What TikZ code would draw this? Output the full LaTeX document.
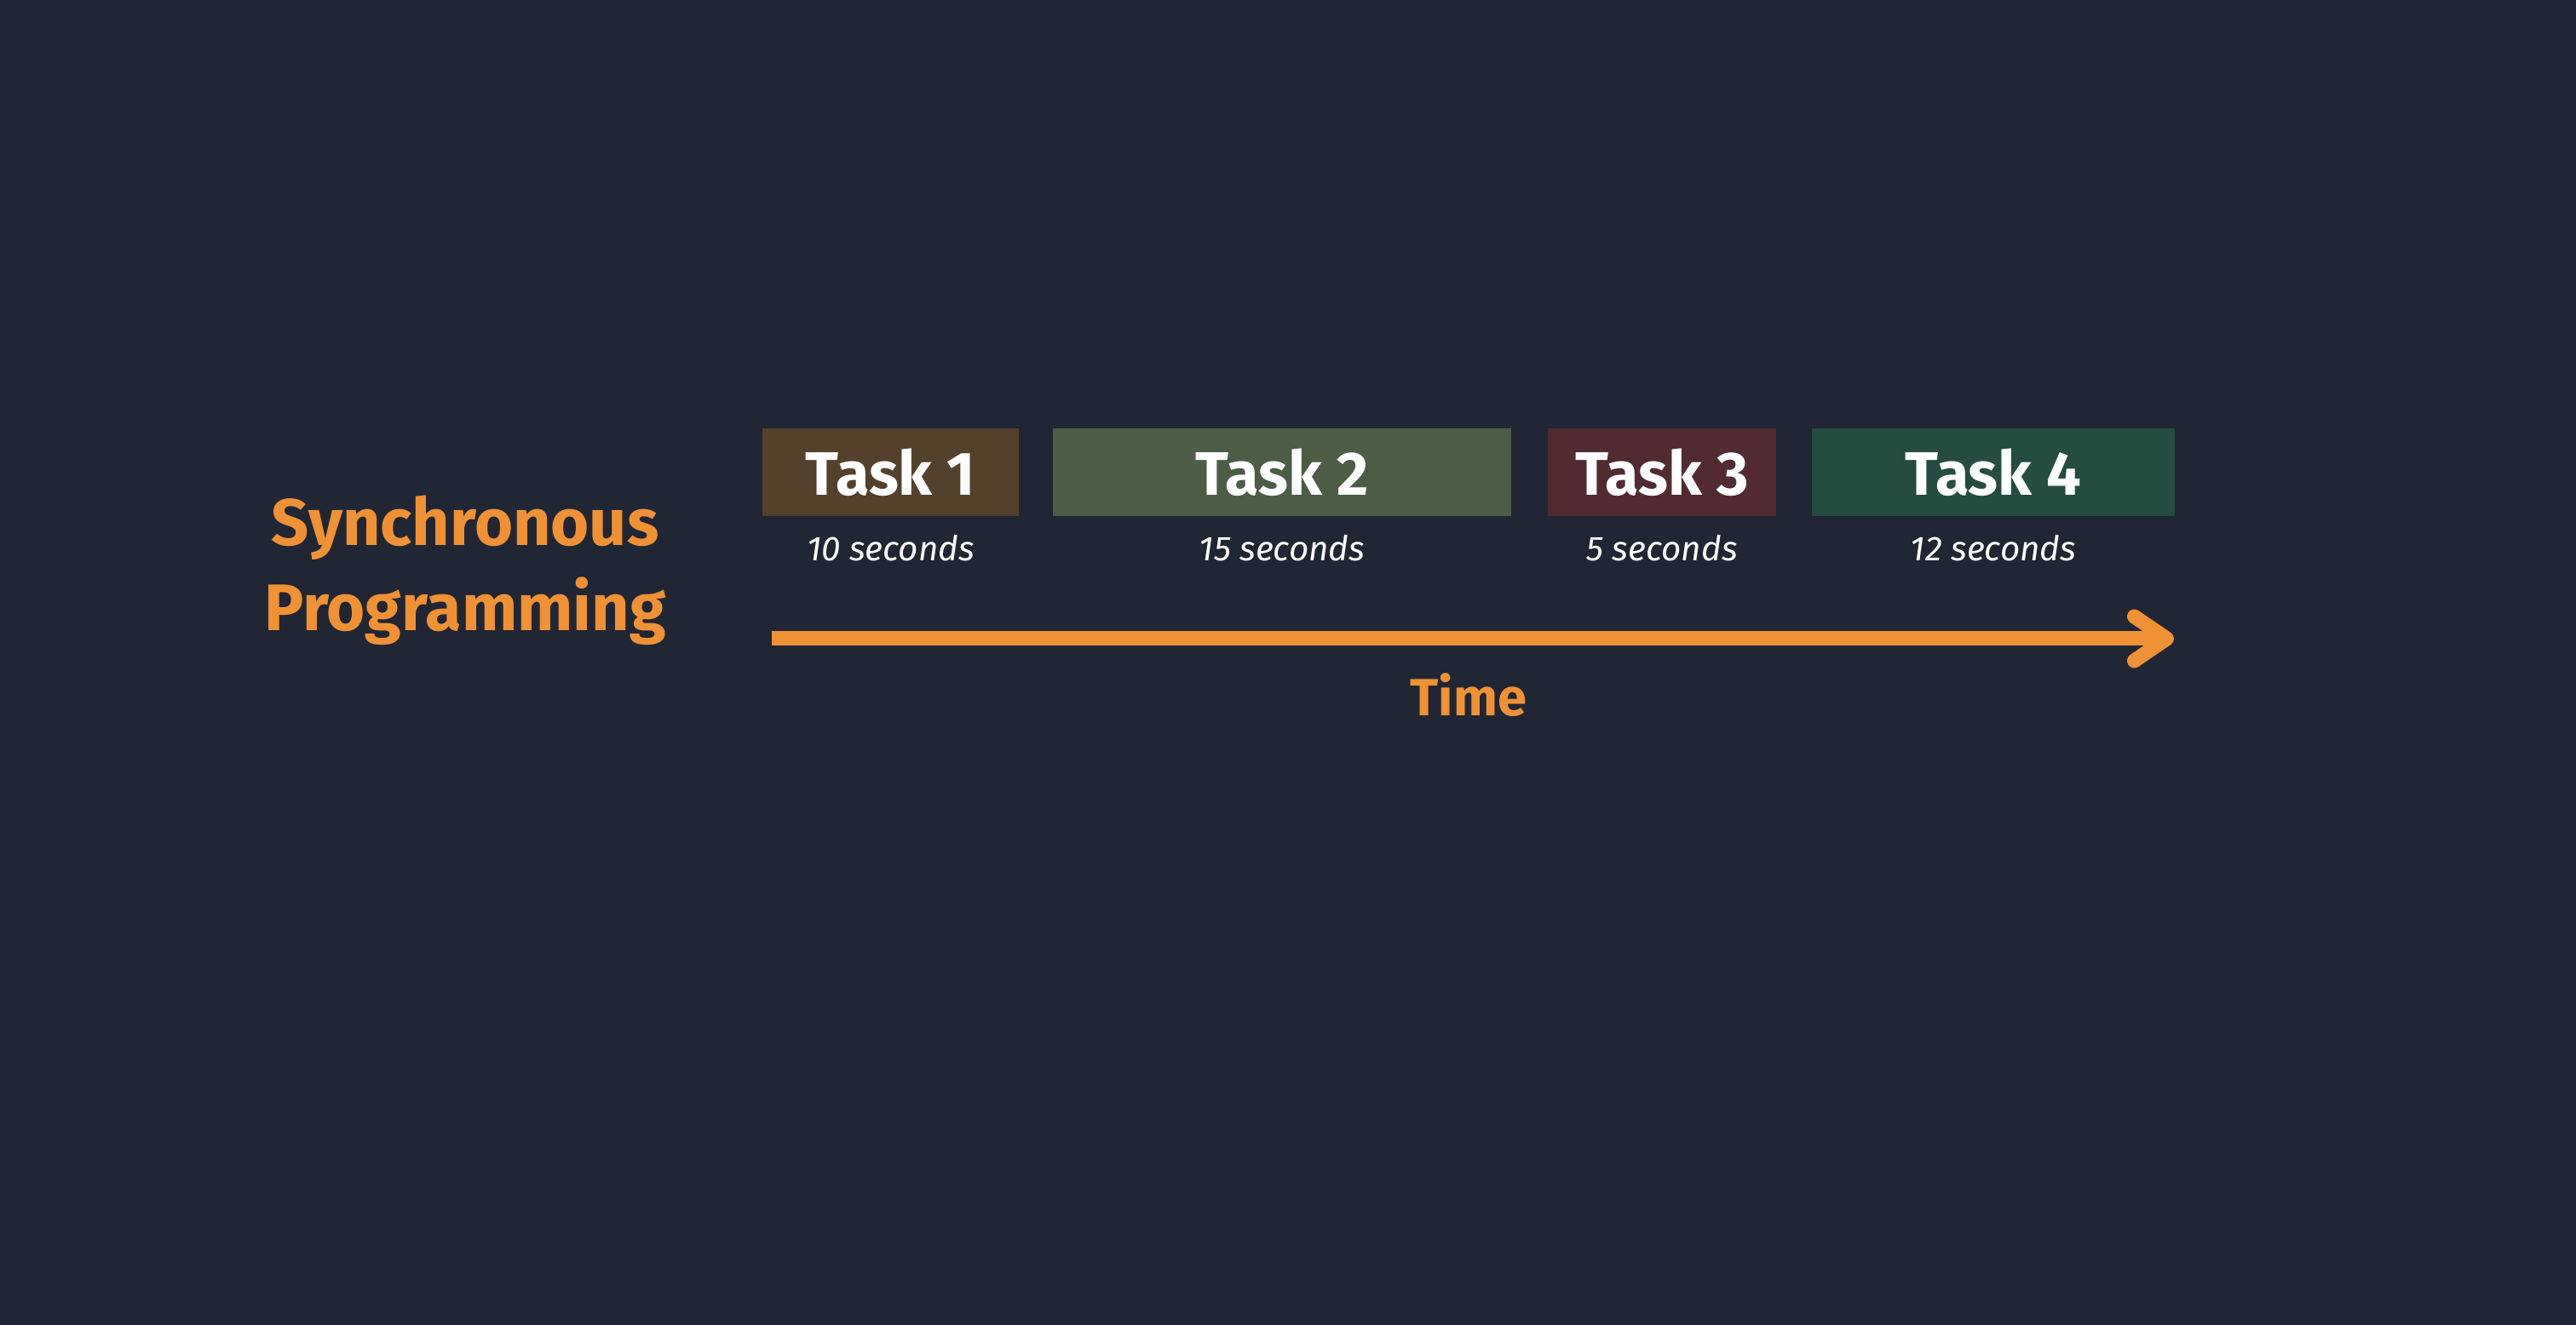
\documentclass[tikz,border=0pt]{standalone}
\usepackage{fontspec}
\setmainfont{Fira Sans}
\usetikzlibrary{arrows.meta}

\definecolor{bgnavy}{HTML}{202634}
\definecolor{synorange}{HTML}{EF9134}
\definecolor{taskbrown}{HTML}{53412B}
\definecolor{taskolive}{HTML}{4C5C45}
\definecolor{taskwine}{HTML}{512A32}
\definecolor{taskteal}{HTML}{244C40}

\begin{document}
\begin{tikzpicture}[
    taskbox/.style = {minimum height=1.03cm, inner sep=0pt, text=white,
                      font=\fontsize{20.5}{24}\selectfont\bfseries},
    duration/.style = {text=white, font=\fontsize{11.5}{14}\selectfont\itshape},
    timeline/.style = {synorange, line width=0.17cm,
                       -{Straight Barb[length=0.38cm, width=0.52cm, round]}}
]
\fill[bgnavy] (0,0) rectangle (30.24,15.56);
\useasboundingbox (0,0) rectangle (30.24,15.56);

% the label on the left
\node (sync) [text=synorange, align=center,
    font=\fontsize{22}{28.5}\selectfont\bfseries] at (5.46,8.86)
    {Synchronous\\Programming};

% tasks, one after the other
\node (task1) [taskbox, fill=taskbrown, minimum width=3.01cm] at (10.455,10.015) {Task 1};
\node (task2) [taskbox, fill=taskolive, minimum width=5.38cm] at (15.05,10.015) {Task 2};
\node (task3) [taskbox, fill=taskwine,  minimum width=2.68cm] at (19.51,10.015) {Task 3};
\node (task4) [taskbox, fill=taskteal,  minimum width=4.26cm] at (23.40,10.015) {Task 4};

\node (sec1) [duration] at (10.455,9.12) {10 seconds};
\node (sec2) [duration] at (15.05,9.12)  {15 seconds};
\node (sec3) [duration] at (19.51,9.12)  {5 seconds};
\node (sec4) [duration] at (23.40,9.12)  {12 seconds};

% time axis
\coordinate (tstart) at (9.06,8.06);
\coordinate (tend) at (25.52,8.06);
\draw[timeline] (tstart) -- (tend);
\node (time) [text=synorange, font=\fontsize{17.5}{20}\selectfont\bfseries] at (17.24,7.40) {Time};
\end{tikzpicture}
\end{document}
